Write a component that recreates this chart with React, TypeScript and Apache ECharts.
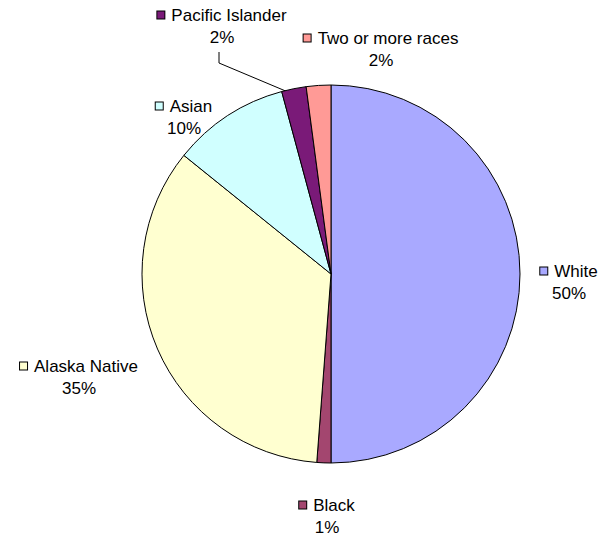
import React, { useEffect, useRef } from "react";
import * as echarts from "echarts";

const categories = ["White", "Black", "Alaska Native", "Asian", "Pacific Islander", "Two or more races"];
const values = [50.0, 1.2, 34.6, 10.0, 2.1, 2.1];
const colors = ["#A9A9FF", "#A3466F", "#FFFFD0", "#D0FFFF", "#7A1A78", "#FF9A96"];

// label anchor positions (layout only)
const labelX = [569, 327, 79, 184, 222, 381];
const labelY = [282, 516, 377, 117, 26, 49];

const FONT = "Liberation Sans, Arial, sans-serif";

export default function App() {
  const ref = useRef<HTMLDivElement>(null);
  useEffect(() => {
    document.body.style.margin = "0";
    const chart = echarts.init(ref.current!, null, { renderer: "svg" });
    const data = categories.map((name, i) => ({
      name,
      value: values[i],
      itemStyle: { color: colors[i] },
      labelLine: { show: name === "Pacific Islander" },
    }));
    chart.setOption({
      animation: false,
      backgroundColor: "#fff",
      series: [
        {
          type: "pie",
          center: [331, 274],
          radius: 189,
          startAngle: 90,
          clockwise: true,
          data,
          itemStyle: { borderColor: "#000", borderWidth: 1 },
          emphasis: { disabled: true },
          label: {
            show: true,
            position: "outside",
            alignTo: "none",
            overflow: "none",
            fontFamily: FONT,
            fontSize: 17,
            color: "#000",
            lineHeight: 22,
            formatter: (p: any) => {
              const idx = p.dataIndex;
              return `{m${idx}|}{g|}{n|${p.name}}\n{n|${Math.round(p.percent)}%}`;
            },
            rich: Object.fromEntries([
              ...colors.map((c, i) => [
                "m" + i,
                { width: 7, height: 7, backgroundColor: c, borderColor: "#000", borderWidth: 1 },
              ]),
              ["g", { width: 7 }],
              ["n", { fontSize: 17, fontFamily: FONT, color: "#000", lineHeight: 22 }],
            ]),
          },
          labelLine: { show: false, lineStyle: { color: "#000", width: 1 } },
          labelLayout: (params: any) => {
            const i = params.dataIndex;
            const out: any = { x: labelX[i], y: labelY[i], align: "center", verticalAlign: "middle" };
            if (categories[i] === "Pacific Islander") {
              out.labelLinePoints = [
                [288, 92],
                [219, 63],
                [219, 52],
              ];
            }
            return out;
          },
        },
      ],
    });
    return () => chart.dispose();
  }, []);
  return <div ref={ref} style={{ width: 603, height: 537 }} />;
}
